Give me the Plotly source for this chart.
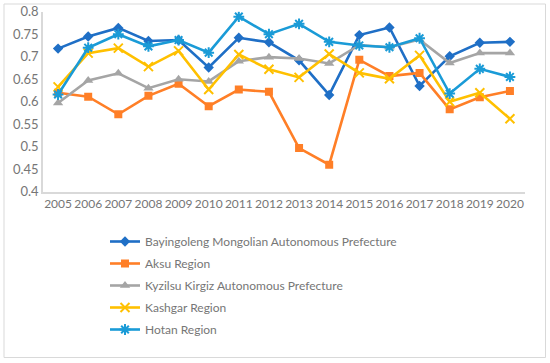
import plotly.graph_objects as go

years = [str(y) for y in range(2005, 2021)]

bayingoleng = [0.718, 0.745, 0.764, 0.735, 0.737, 0.676, 0.742, 0.732, 0.692, 0.615, 0.748, 0.765, 0.635, 0.701, 0.731, 0.733]
aksu = [0.620, 0.611, 0.572, 0.613, 0.640, 0.590, 0.627, 0.622, 0.497, 0.460, 0.693, 0.657, 0.664, 0.583, 0.610, 0.624]
kyzilsu = [0.597, 0.647, 0.663, 0.630, 0.650, 0.645, 0.690, 0.699, 0.696, 0.685, 0.726, 0.721, 0.738, 0.686, 0.708, 0.708]
kashgar = [0.633, 0.708, 0.719, 0.678, 0.713, 0.627, 0.705, 0.672, 0.654, 0.706, 0.664, 0.651, 0.703, 0.600, 0.620, 0.562]
hotan = [0.616, 0.720, 0.750, 0.723, 0.737, 0.709, 0.789, 0.750, 0.773, 0.733, 0.725, 0.721, 0.741, 0.618, 0.673, 0.655]

series = [
    ("Bayingoleng Mongolian Autonomous Prefecture", bayingoleng, "#1F6FC6", "diamond", 8),
    ("Aksu Region", aksu, "#FF7F27", "square", 8),
    ("Kyzilsu Kirgiz Autonomous Prefecture", kyzilsu, "#A5A5A5", "triangle-up", 9),
    ("Kashgar Region", kashgar, "#FFC000", "x-thin-open", 9),
    ("Hotan Region", hotan, "#1A9BD7", "asterisk-open", 9),
]

fig = go.Figure()
for i, (name, vals, color, sym, size) in enumerate(series):
    fig.add_trace(go.Scatter(
        x=years, y=vals, name=name, mode="lines+markers",
        line=dict(color=color, width=2.6),
        marker=dict(symbol=sym, size=size, color=color,
                    line=dict(color=color, width=2 if "open" in sym else 0)),
        legendgroup=str(i),
    ))

W, H = 550, 363
ml, mr = 43, 25
pw = W - ml - mr
plot_top, plot_bot = 11.7, 191.7

def px2x(p):
    return (p - ml) / pw

def px2y(p):
    return (H - p) / H

fig.add_shape(type="rect", xref="paper", yref="paper",
              x0=px2x(4), x1=px2x(545.5), y0=px2y(357.5), y1=px2y(4),
              line=dict(color="#D9D9D9", width=1), fillcolor="rgba(0,0,0,0)", layer="below")

fig.update_layout(
    width=W, height=H,
    margin=dict(l=ml, r=mr, t=0, b=0, autoexpand=False),
    paper_bgcolor="white", plot_bgcolor="white",
    font=dict(family="Lato, Liberation Sans, sans-serif", color="#767676", size=12),
    showlegend=True,
    legend=dict(x=px2x(105), y=px2y(227), xanchor="left", yanchor="top",
                font=dict(family="Lato, sans-serif", size=12, color="#767676"), tracegroupgap=3,
                bgcolor="rgba(0,0,0,0)"),
    xaxis=dict(type="category", range=[-0.5, 15.5], autorange=False, showgrid=False,
               showline=True, linecolor="#D9D9D9", linewidth=1.5,
               ticks="", tickfont=dict(size=12, color="#767676"), tickangle=0, automargin=False,
               domain=[0, 1]),
    yaxis=dict(range=[0.4, 0.8], autorange=False, dtick=0.05, showgrid=False, showline=True,
               linecolor="#D9D9D9",
               linewidth=1.5, ticks="", tickfont=dict(size=13, color="#767676"), tickformat="~g",
               zeroline=False, automargin=False,
               domain=[px2y(plot_bot), px2y(plot_top)]),
)

fig.write_html("out.html", config={"displayModeBar": False},
               post_script="document.body.style.margin='0';")
